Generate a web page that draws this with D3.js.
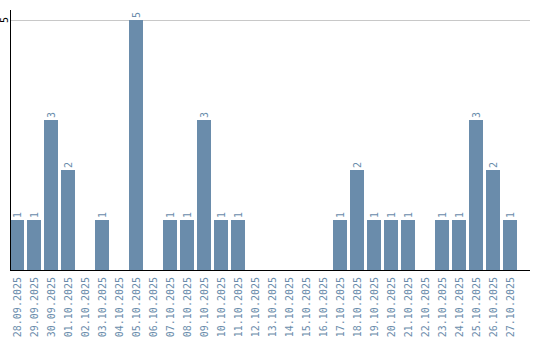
<!DOCTYPE html>
<html>
<head>
<meta charset="utf-8">
<script src="https://cdn.jsdelivr.net/npm/d3@7"></script>
<style>
  body { margin: 0; background: #fff; }
  svg { display: block; }
  text { font-family: "DejaVu Sans Mono", monospace; }
</style>
</head>
<body>
<div id="chart"></div>
<script>
const width = 540;
const height = 340;

// dates (x categories)
const dates = [
  "28.09.2025", "29.09.2025", "30.09.2025", "01.10.2025", "02.10.2025",
  "03.10.2025", "04.10.2025", "05.10.2025", "06.10.2025", "07.10.2025",
  "08.10.2025", "09.10.2025", "10.10.2025", "11.10.2025", "12.10.2025",
  "13.10.2025", "14.10.2025", "15.10.2025", "16.10.2025", "17.10.2025",
  "18.10.2025", "19.10.2025", "20.10.2025", "21.10.2025", "22.10.2025",
  "23.10.2025", "24.10.2025", "25.10.2025", "26.10.2025", "27.10.2025"
];
// counts per day
const counts = [1, 1, 3, 2, 0, 1, 0, 5, 0, 1, 1, 3, 1, 1, 0, 0, 0, 0, 0, 1, 2, 1, 1, 1, 0, 1, 1, 3, 2, 1];
const yTicks = [5];

const barColor = "#6a8cab";

const svg = d3.select("#chart")
  .append("svg")
  .attr("width", width)
  .attr("height", height);

const x = d3.scaleBand()
  .domain(dates)
  .range([10, 517])
  .paddingInner(3 / 17)
  .paddingOuter(0)
  .align(0);

const y = d3.scaleLinear()
  .domain([0, 5.2])
  .range([270, 10]);

// grid
svg.selectAll(".grid")
  .data(yTicks)
  .enter()
  .append("line")
  .attr("x1", 10)
  .attr("x2", 530)
  .attr("y1", d => y(d) + 0.5)
  .attr("y2", d => y(d) + 0.5)
  .attr("stroke", "#c8c8c8")
  .attr("stroke-width", 1);

// bars
const data = dates.map((d, i) => ({ date: d, value: counts[i] }));

svg.selectAll(".bar")
  .data(data.filter(d => d.value > 0))
  .enter()
  .append("rect")
  .attr("x", d => x(d.date))
  .attr("y", d => y(d.value))
  .attr("width", x.bandwidth())
  .attr("height", d => y(0) - y(d.value))
  .attr("fill", barColor);

// value labels
svg.selectAll(".val")
  .data(data.filter(d => d.value > 0))
  .enter()
  .append("text")
  .attr("transform", d => `translate(${x(d.date) + x.bandwidth() / 2 + 4}, ${y(d.value) - 2}) rotate(-90)`)
  .attr("font-size", 10)
  .attr("fill", barColor)
  .text(d => d.value);

// x tick labels
svg.selectAll(".xlab")
  .data(dates)
  .enter()
  .append("text")
  .attr("transform", d => `translate(${x(d) + x.bandwidth() / 2 + 4}, 277) rotate(-90)`)
  .attr("text-anchor", "end")
  .attr("font-size", 10)
  .attr("fill", barColor)
  .text(d => d);

// y tick labels
svg.selectAll(".ylab")
  .data(yTicks)
  .enter()
  .append("text")
  .attr("transform", d => `translate(8, ${y(d)}) rotate(-90)`)
  .attr("text-anchor", "middle")
  .attr("font-size", 10)
  .attr("fill", "#000")
  .text(d => d);

// axes lines
svg.append("line")
  .attr("x1", 10.5).attr("x2", 10.5)
  .attr("y1", 10).attr("y2", 270)
  .attr("stroke", "#000").attr("stroke-width", 1);

svg.append("line")
  .attr("x1", 10).attr("x2", 530)
  .attr("y1", 270.5).attr("y2", 270.5)
  .attr("stroke", "#000").attr("stroke-width", 1);
</script>
</body>
</html>
